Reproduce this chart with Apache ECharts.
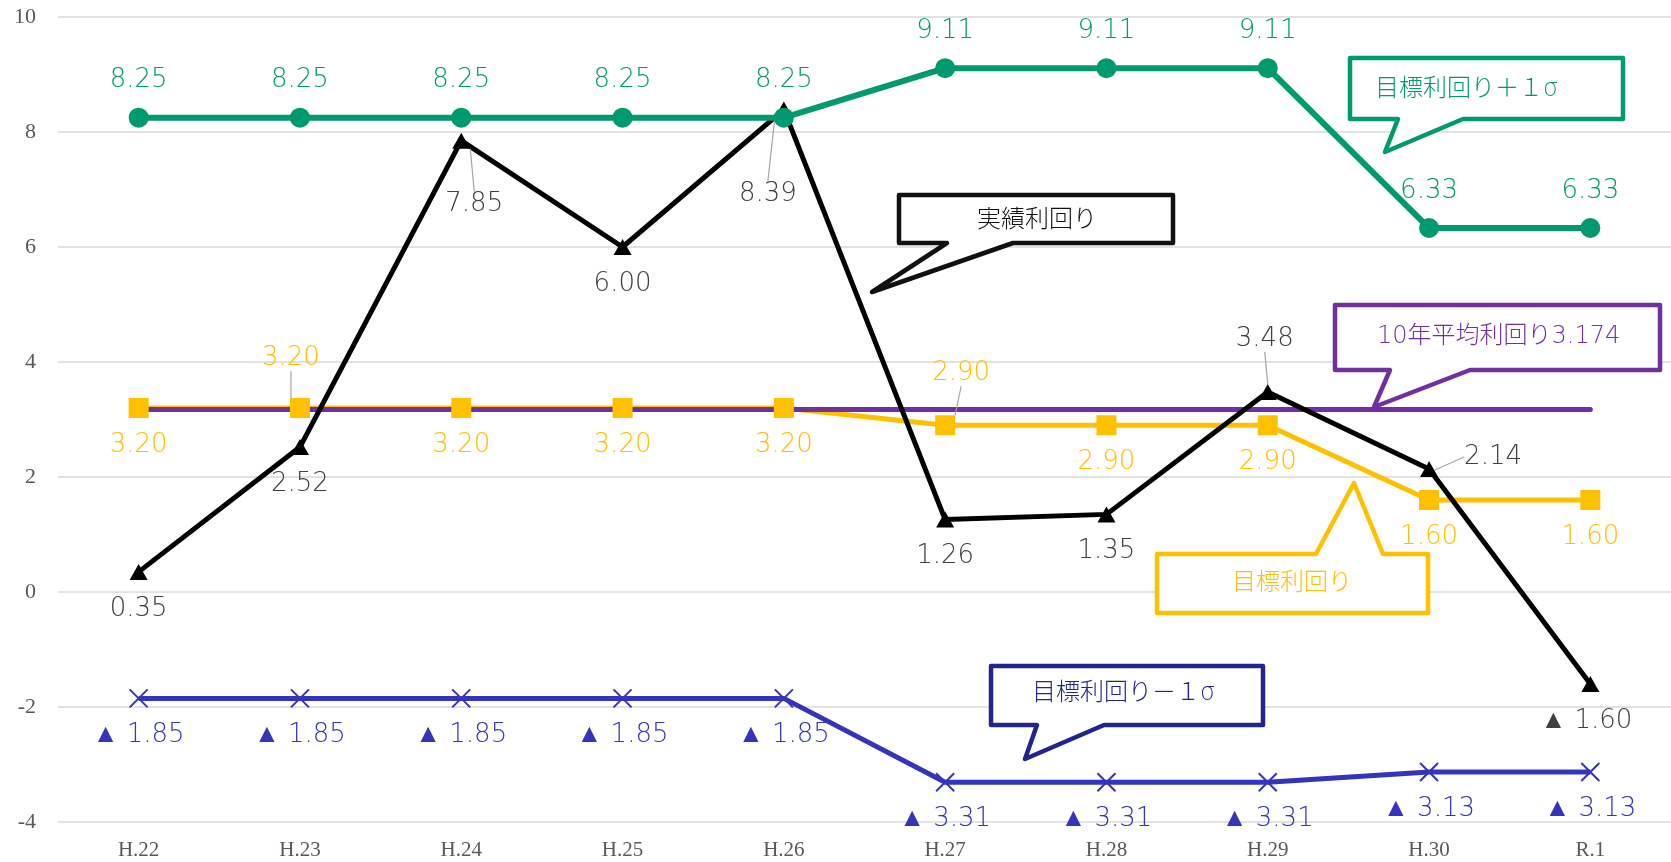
<!DOCTYPE html>
<html>
<head>
<meta charset="utf-8">
<script src="https://cdn.jsdelivr.net/npm/echarts@6/dist/echarts.min.js"></script>
<style>
html,body{margin:0;padding:0;background:#fff;}
#c{width:1671px;height:862px;}
</style>
</head>
<body>
<div id="c"></div>
<script>
// ---- data ----
const categories = ['H.22','H.23','H.24','H.25','H.26','H.27','H.28','H.29','H.30','R.1'];
const actualYield = [0.35, 2.52, 7.85, 6.00, 8.39, 1.26, 1.35, 3.48, 2.14, -1.60];
const targetYield = [3.20, 3.20, 3.20, 3.20, 3.20, 2.90, 2.90, 2.90, 1.60, 1.60];
const targetPlusSigma = [8.25, 8.25, 8.25, 8.25, 8.25, 9.11, 9.11, 9.11, 6.33, 6.33];
const targetMinusSigma = [-1.85, -1.85, -1.85, -1.85, -1.85, -3.31, -3.31, -3.31, -3.13, -3.13];
const avg10Yield = [3.174, 3.174, 3.174, 3.174, 3.174, 3.174, 3.174, 3.174, 3.174, 3.174];
const yTicks = {min: -4, max: 10, interval: 2};

// ---- layout (label offsets in px from the point) ----
const BELOW = 37, ABOVE = -37;
const offActual = [[0,BELOW],[0,BELOW],[13,64],[0,BELOW],[-16,85],[0,BELOW],[0,BELOW],[-3,-53],[64,-12],[-4,BELOW]];
const leadActual = [false,false,true,false,true,false,false,true,true,false];
const offTarget = [[0,BELOW],[-9,-50],[0,BELOW],[0,BELOW],[0,BELOW],[16,-52],[0,BELOW],[0,BELOW],[0,BELOW],[0,BELOW]];
const leadTarget = [false,true,false,false,false,true,false,false,false,false];
const offPlus = categories.map(()=>[0,ABOVE]);
const offMinus = categories.map(()=>[0,BELOW]);

const C_GREEN = '#009A6E', C_BLACK = '#000000', C_YELLOW = '#FFC000', C_PURPLE = '#7030A0', C_BLUE = '#3434BC', C_NAVY = '#24248E';
const LBL_FONT = "'DejaVu Sans'";
const fmt = v => (v < 0 ? '▲ ' + Math.abs(v).toFixed(2) : v.toFixed(2));

function makeData(vals, leads){
  return vals.map((v,i)=>({value:v, labelLine:{show: !!(leads && leads[i])}}));
}
function layoutFn(offs){
  return function(p){
    const o = offs[p.dataIndex];
    return {x: p.rect.x + p.rect.width/2 + o[0], y: p.rect.y + p.rect.height/2 + o[1], align:'center', verticalAlign:'middle'};
  };
}
function lbl(color){
  return {show:true, color:color, fontFamily:LBL_FONT, fontWeight:200, fontSize:26, formatter: p => fmt(p.value)};
}

function callout(pts, color, text, tx, ty, align){
  return [
    {type:'polygon', z:100, shape:{points:pts}, style:{fill:'#fff', stroke:color, lineWidth:4.5, lineJoin:'round'}},
    {type:'text', z:101, x:tx, y:ty, style:{text:text, fill:color, font:"300 24px 'DejaVu Sans', 'Noto Sans CJK JP'", align:align, verticalAlign:'middle'}}
  ];
}
function boxDown(L,T,R,B,b1,b2,tx,ty){ return [[L,T],[R,T],[R,B],[b2,B],[tx,ty],[b1,B],[L,B]]; }
function boxUp(L,T,R,B,b1,b2,tx,ty){ return [[L,T],[b1,T],[tx,ty],[b2,T],[R,T],[R,B],[L,B]]; }

const graphics = [].concat(
  callout(boxDown(1350,58,1623,119,1398,1463,1385,152), C_GREEN, '目標利回り＋１σ', 1375, 90, 'left'),
  callout(boxDown(899,195,1173,243,947,1013,872,292), '#111', '実績利回り', 1037, 221, 'center'),
  callout(boxDown(1335,305,1660,370,1390,1470,1374,407), C_PURPLE, '10年平均利回り3.174', 1377, 337, 'left'),
  callout(boxUp(1157,554,1428,613,1316,1383,1354,483), C_YELLOW, '目標利回り', 1292, 584, 'center'),
  callout(boxDown(991,666,1263,725,1037,1104,1025,759), C_NAVY, '目標利回り－１σ', 1032, 694, 'left')
);

const chart = echarts.init(document.getElementById('c'), null, {renderer:'canvas'});
chart.setOption({
  animation:false,
  backgroundColor:'#fff',
  grid:{left:58, top:17, width:1615, height:805, containLabel:false},
  xAxis:{
    type:'category', data:categories, boundaryGap:true,
    axisLine:{show:false}, axisTick:{show:false},
    axisLabel:{color:'#595959', fontFamily:"'Liberation Serif'", fontSize:21, margin:18}
  },
  yAxis:{
    type:'value', min:yTicks.min, max:yTicks.max, interval:yTicks.interval,
    axisLine:{show:false}, axisTick:{show:false},
    axisLabel:{color:'#595959', fontFamily:"'Liberation Serif'", fontSize:22, margin:22},
    splitLine:{lineStyle:{color:'#D9D9D9', width:1.5}}
  },
  series:[
    {name:'目標利回り', type:'line', data:makeData(targetYield, leadTarget), symbol:'rect', symbolSize:20,
     lineStyle:{color:C_YELLOW, width:5}, itemStyle:{color:C_YELLOW},
     label:lbl(C_YELLOW), labelLayout:layoutFn(offTarget), labelLine:{lineStyle:{color:'#A6A6A6', width:1.2}}},
    {name:'10年平均利回り', type:'line', data:avg10Yield, symbol:'none',
     lineStyle:{color:C_PURPLE, width:5, cap:'round'}, itemStyle:{color:C_PURPLE}},
    {name:'実績利回り', type:'line', data:makeData(actualYield, leadActual), symbol:'triangle', symbolSize:[18,16],
     lineStyle:{color:C_BLACK, width:5}, itemStyle:{color:C_BLACK},
     label:lbl('#404040'), labelLayout:layoutFn(offActual), labelLine:{lineStyle:{color:'#A6A6A6', width:1.2}}},
    {name:'目標利回り＋１σ', type:'line', data:targetPlusSigma, symbol:'circle', symbolSize:20,
     lineStyle:{color:C_GREEN, width:6}, itemStyle:{color:C_GREEN},
     label:lbl(C_GREEN), labelLayout:layoutFn(offPlus)},
    {name:'目標利回り－１σ', type:'line', data:targetMinusSigma,
     symbol:'path://M0,0L10,10M10,0L0,10', symbolSize:18,
     lineStyle:{color:C_BLUE, width:5}, itemStyle:{color:'none', borderColor:C_BLUE, borderWidth:2},
     label:lbl(C_BLUE), labelLayout:layoutFn(offMinus)}
  ],
  graphic:graphics
});
</script>
</body>
</html>
